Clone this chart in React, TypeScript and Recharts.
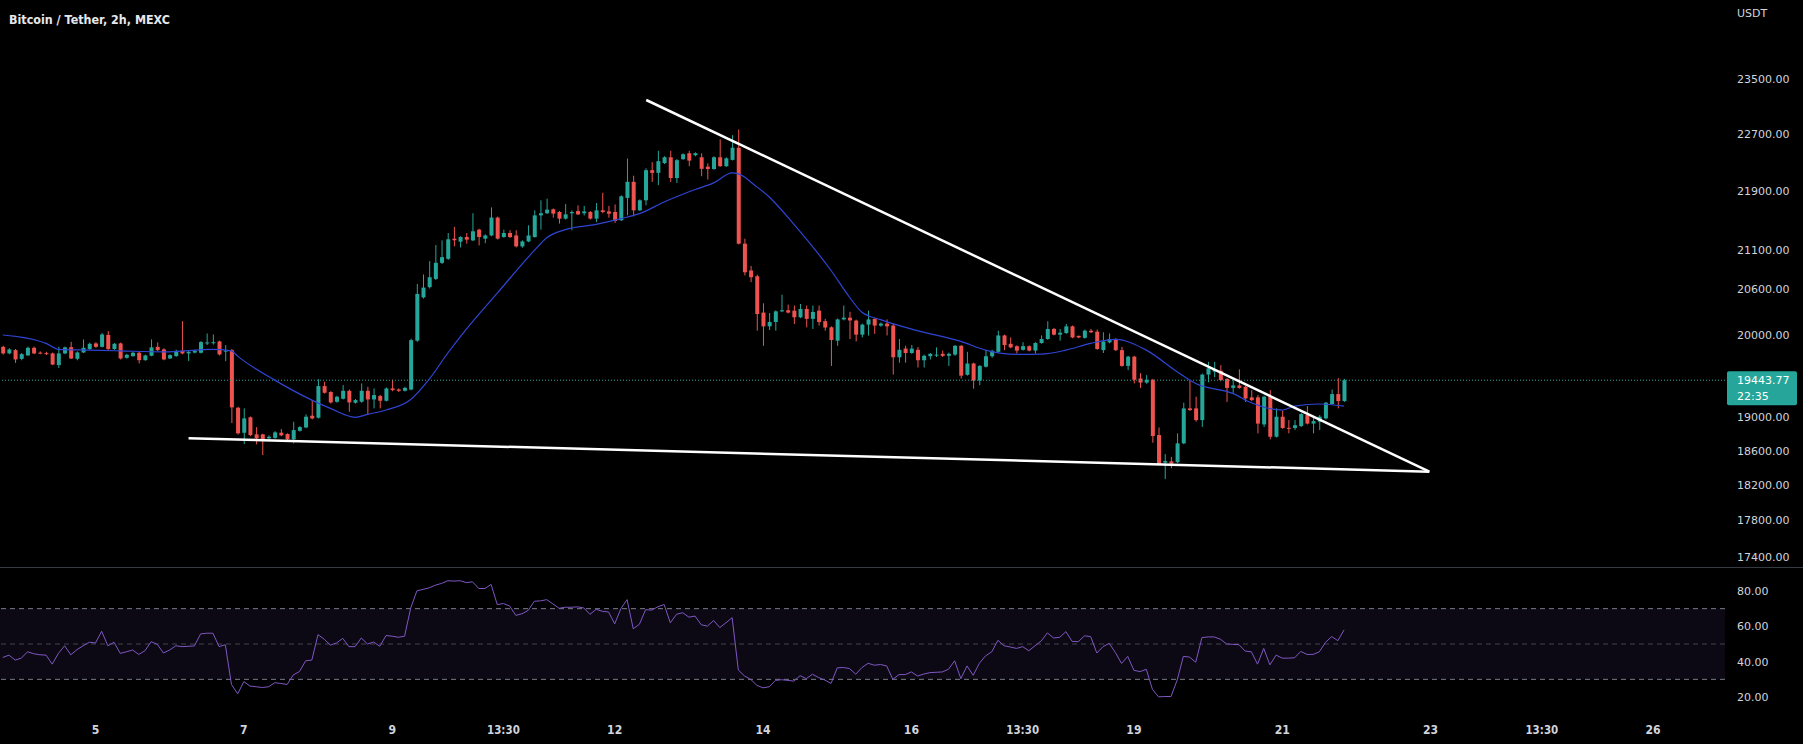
import { ComposedChart, Bar, Line, XAxis, YAxis, ReferenceLine, ReferenceArea } from 'recharts'

const UP = '#26a69a'
const DOWN = '#ef5350'
const MA_COLOR = '#2f45d4'
const RSI_COLOR = '#7e57c2'
const TEXT = '#d1d4dc'

// 2h bars, bar 0 = Sep 3 18:00. [open, high, low, close]
const ohlc: [number, number, number, number][] = [
  [19857, 19870, 19760, 19775], [19775, 19840, 19765, 19825], [19816, 19830, 19657, 19700], [19707, 19780, 19690, 19766],
  [19750, 19860, 19745, 19845], [19845, 19860, 19765, 19775], [19785, 19800, 19765, 19775], [19778, 19795, 19755, 19770],
  [19775, 19785, 19630, 19637], [19630, 19857, 19595, 19775], [19775, 19860, 19765, 19850], [19853, 19920, 19705, 19712],
  [19708, 19800, 19690, 19787], [19787, 19950, 19780, 19845], [19829, 19910, 19820, 19895], [19900, 19915, 19845, 19857],
  [19857, 20032, 19850, 20012], [20007, 20054, 19820, 19829], [19829, 19905, 19820, 19895], [19900, 19910, 19700, 19712],
  [19720, 19770, 19710, 19758], [19741, 19795, 19735, 19783], [19783, 19795, 19650, 19691], [19691, 19760, 19685, 19750],
  [19746, 19950, 19740, 19850], [19857, 19912, 19805, 19816], [19825, 19840, 19690, 19700], [19712, 19765, 19705, 19754],
  [19741, 19820, 19735, 19807], [19807, 20181, 19765, 19775], [19775, 19805, 19679, 19795], [19785, 19820, 19775, 19807],
  [19783, 19930, 19775, 19916], [19905, 20025, 19879, 19912], [19905, 20012, 19885, 19915], [19925, 19935, 19750, 19762],
  [19800, 19879, 19679, 19810], [19816, 19830, 18926, 19114], [19110, 19120, 18790, 18804], [18811, 19102, 18678, 18982],
  [18995, 19005, 18770, 18784], [18792, 18878, 18674, 18745], [18792, 18800, 18549, 18733], [18745, 18780, 18730, 18764],
  [18750, 18830, 18740, 18816], [18812, 18855, 18770, 18780], [18796, 18805, 18720, 18733], [18733, 18942, 18686, 18843],
  [18835, 18890, 18825, 18878], [18874, 19030, 18865, 19002], [19014, 19202, 18970, 18982], [18990, 19457, 18980, 19372],
  [19372, 19424, 19280, 19291], [19300, 19310, 19160, 19174], [19182, 19255, 19170, 19242], [19218, 19384, 19210, 19315],
  [19315, 19330, 19062, 19174], [19170, 19215, 19160, 19202], [19182, 19404, 19170, 19315], [19315, 19364, 19022, 19210],
  [19210, 19343, 19102, 19263], [19251, 19265, 19102, 19194], [19194, 19355, 19185, 19343], [19343, 19453, 19310, 19323],
  [19331, 19345, 19300, 19315], [19315, 19365, 19305, 19350], [19330, 19960, 19320, 19941], [19934, 20660, 19920, 20530],
  [20485, 20783, 20470, 20612], [20618, 20958, 20600, 20747], [20725, 21172, 20710, 20936], [20936, 21234, 20920, 21011],
  [20989, 21333, 20975, 21249], [21257, 21415, 21154, 21236], [21217, 21290, 21140, 21279], [21279, 21333, 21190, 21244],
  [21234, 21600, 21225, 21356], [21378, 21390, 21167, 21279], [21257, 21315, 21196, 21300], [21300, 21680, 21290, 21541],
  [21541, 21555, 21245, 21257], [21279, 21378, 21270, 21333], [21333, 21370, 21265, 21279], [21300, 21370, 21140, 21154],
  [21154, 21235, 21136, 21220], [21220, 21437, 21210, 21300], [21279, 21640, 21270, 21571], [21571, 21777, 21378, 21600],
  [21600, 21800, 21590, 21649], [21654, 21665, 21540, 21595], [21617, 21630, 21460, 21527], [21527, 21725, 21515, 21585],
  [21600, 21640, 21369, 21617], [21630, 21708, 21575, 21585], [21600, 21700, 21570, 21625], [21617, 21630, 21515, 21527],
  [21527, 21740, 21480, 21640], [21640, 21880, 21600, 21617], [21625, 21700, 21540, 21595], [21617, 21720, 21470, 21495],
  [21504, 21845, 21495, 21832], [21810, 22357, 21572, 22032], [22032, 22117, 21558, 21640], [21640, 21790, 21630, 21777],
  [21777, 22220, 21708, 22194], [22194, 22306, 22030, 22157], [22157, 22467, 21985, 22320], [22294, 22390, 22280, 22375],
  [22375, 22467, 22030, 22085], [22085, 22350, 22015, 22334], [22348, 22430, 22340, 22418], [22432, 22467, 22250, 22328],
  [22404, 22445, 22390, 22432], [22375, 22432, 22110, 22213], [22243, 22290, 22064, 22210], [22210, 22390, 22200, 22375],
  [22375, 22628, 22240, 22250], [22250, 22375, 22240, 22360], [22338, 22690, 22330, 22510], [22510, 22770, 21180, 21190],
  [21190, 21257, 20770, 20812], [20835, 20895, 20682, 20747], [20760, 20780, 20060, 20272], [20290, 20409, 19870, 20115],
  [20115, 20285, 20068, 20170], [20170, 20318, 20060, 20306], [20306, 20520, 20295, 20320], [20320, 20392, 20280, 20290],
  [20315, 20380, 20145, 20230], [20230, 20400, 20220, 20336], [20336, 20380, 20103, 20210], [20210, 20380, 20082, 20298],
  [20315, 20380, 20125, 20170], [20180, 20210, 20060, 20100], [20103, 20115, 19620, 19943], [19934, 20215, 19870, 20203],
  [20203, 20380, 20190, 20225], [20225, 20300, 19955, 20190], [20188, 20200, 19925, 20010], [20010, 20150, 19975, 20137],
  [20137, 20315, 19998, 20203], [20210, 20220, 20020, 20125], [20125, 20165, 20110, 20150], [20150, 20203, 20000, 20115],
  [20125, 20150, 19513, 19727], [19727, 19955, 19660, 19820], [19835, 19870, 19660, 19780], [19780, 19880, 19770, 19835],
  [19820, 19855, 19600, 19690], [19690, 19760, 19600, 19745], [19740, 19780, 19700, 19770], [19750, 19850, 19730, 19760],
  [19770, 19810, 19730, 19745], [19745, 19785, 19620, 19770], [19760, 19880, 19745, 19870], [19870, 19880, 19465, 19500],
  [19510, 19795, 19500, 19650], [19650, 19660, 19340, 19440], [19440, 19630, 19384, 19620], [19610, 19816, 19600, 19740],
  [19740, 19820, 19720, 19807], [19795, 20060, 19785, 20000], [20000, 20010, 19816, 19879], [19895, 19975, 19840, 19850],
  [19865, 19875, 19774, 19810], [19820, 19915, 19810, 19865], [19865, 19875, 19800, 19810], [19810, 19915, 19774, 19905],
  [19905, 20000, 19895, 19955], [19955, 20180, 19945, 20082], [20082, 20095, 20000, 20010], [20010, 20082, 19934, 20035],
  [20030, 20145, 20020, 20115], [20115, 20125, 19965, 19975], [19995, 19998, 19965, 19975], [19970, 20075, 19960, 20060],
  [20060, 20082, 20030, 20040], [20048, 20075, 19820, 19830], [19816, 20040, 19780, 19925], [19913, 20025, 19900, 19955],
  [19955, 19965, 19805, 19816], [19816, 19857, 19610, 19620], [19620, 19745, 19568, 19735], [19735, 19745, 19405, 19450],
  [19465, 19530, 19350, 19415], [19415, 19507, 19400, 19450], [19450, 19460, 18693, 18772], [18784, 18874, 18430, 18440],
  [18460, 18560, 18270, 18480], [18475, 18527, 18395, 18450], [18465, 18804, 18455, 18686], [18686, 19170, 18676, 19102],
  [19102, 19445, 19070, 19082], [19102, 19243, 18942, 18962], [18962, 19525, 18880, 19513], [19513, 19670, 19420, 19590],
  [19550, 19670, 19480, 19570], [19560, 19630, 19430, 19445], [19460, 19470, 19180, 19350], [19350, 19455, 19290, 19380],
  [19380, 19577, 19340, 19350], [19364, 19375, 19180, 19222], [19235, 19323, 19190, 19202], [19235, 19263, 18804, 18920],
  [18910, 19255, 18880, 19243], [19250, 19323, 18733, 18764], [18764, 19102, 18755, 19002], [19002, 19072, 18858, 18868],
  [18870, 18962, 18804, 18860], [18868, 18962, 18843, 18900], [18890, 19045, 18880, 19034], [19022, 19130, 18910, 18920],
  [18920, 19000, 18804, 18950], [18942, 19022, 18843, 19002], [18982, 19180, 18970, 19170], [19155, 19330, 19145, 19275],
  [19275, 19472, 19102, 19190], [19190, 19460, 19180, 19443.77],
]

// moving average read at some bars: [bar, value]
const maPoints: [number, number][] = [
  [0, 20006], [7, 19900], [9, 19825], [14, 19816], [19, 19807], [26, 19795], [34, 19825], [37, 19807],
  [38, 19741], [44, 19445], [50, 19202], [53, 19102], [57, 18995], [59, 19030], [62, 19082], [66, 19210],
  [69, 19457], [72, 19780], [75, 20080], [80, 20540], [86, 21100], [88, 21270], [91, 21378], [96, 21450],
  [100, 21527], [103, 21595], [107, 21754], [112, 21925], [115, 22017], [118, 22157], [120, 22100], [121, 22030],
  [124, 21822], [128, 21450], [134, 20835], [137, 20487], [139, 20294], [142, 20200], [148, 20060], [155, 19925],
  [159, 19816], [164, 19762], [168, 19766], [172, 19816], [176, 19900], [180, 19950], [185, 19816], [190, 19547],
  [193, 19404], [199, 19283], [202, 19170], [207, 19082], [209, 19130], [213, 19155], [217, 19130],
]

const rsi: number[] = [
  42.4, 43.7, 40.9, 42.0, 45.6, 44.5, 43.9, 43.7, 38.6, 44.7, 49.0, 43.9, 46.8, 49.0, 51.0, 50.6,
  57.2, 49.0, 51.0, 44.7, 45.6, 46.6, 44.1, 46.2, 51.3, 49.8, 44.9, 46.6, 49.0, 48.5, 48.7, 48.9,
  55.7, 56.1, 56.1, 48.5, 49.6, 27.1, 21.8, 28.7, 26.2, 25.8, 25.4, 25.8, 28.1, 27.7, 27.1, 32.5,
  34.4, 40.5, 40.9, 55.3, 52.7, 49.4, 50.6, 53.2, 48.5, 48.5, 53.4, 50.0, 51.1, 48.7, 54.8, 54.4,
  53.8, 54.4, 70.4, 80.1, 80.9, 81.8, 83.3, 84.3, 85.8, 85.6, 85.8, 84.7, 85.2, 81.4, 81.4, 83.7,
  72.3, 72.9, 71.5, 66.2, 67.1, 69.0, 74.2, 74.4, 75.1, 72.7, 70.2, 70.8, 70.8, 71.0, 70.4, 66.8,
  69.6, 68.5, 68.1, 61.4, 70.0, 75.1, 58.6, 61.2, 69.4, 69.2, 71.1, 72.3, 62.0, 66.8, 67.7, 65.2,
  65.8, 60.9, 60.1, 63.3, 59.3, 62.0, 64.9, 35.3, 31.9, 30.0, 26.6, 25.2, 25.8, 29.4, 29.8, 29.4,
  29.0, 32.1, 30.4, 32.9, 31.0, 29.6, 27.7, 36.5, 36.7, 36.1, 32.9, 36.7, 39.1, 38.0, 38.4, 37.6,
  30.0, 32.7, 32.7, 34.2, 31.9, 33.0, 33.8, 34.0, 34.2, 35.7, 40.5, 30.4, 37.6, 32.3, 39.1, 43.3,
  45.6, 52.1, 49.0, 48.3, 47.5, 48.5, 46.2, 49.0, 51.7, 56.3, 53.4, 53.8, 57.0, 51.5, 51.3, 54.6,
  54.2, 44.9, 48.5, 50.4, 45.2, 39.0, 43.0, 35.1, 34.4, 35.7, 24.3, 20.1, 20.3, 20.3, 29.6, 43.0,
  42.6, 39.7, 53.6, 54.0, 54.0, 52.7, 50.0, 49.8, 49.6, 46.0, 45.6, 38.6, 47.5, 38.2, 43.7, 42.0,
  42.0, 42.2, 45.8, 44.1, 44.1, 45.6, 51.0, 54.2, 51.9, 58.0,
]

// drawn trend lines, [bar, price]
const trendUpper: [number, number][] = [[104.1, 23197], [230.8, 18356]]
const trendLower: [number, number][] = [[30.06, 18746], [230.8, 18356]]

const priceTicks = [17400, 17800, 18200, 18600, 19000, 20000, 20600, 21100, 21900, 22700, 23500]
const rsiTicks = [20, 40, 60, 80]
const timeTicks = [15, 39, 63, 81, 99, 123, 147, 165, 183, 207, 231, 249, 267]
const timeLabels = ['5', '7', '9', '13:30', '12', '14', '16', '13:30', '19', '21', '23', '13:30', '26']

const title = 'Bitcoin / Tether, 2h, MEXC'
const currency = 'USDT'
const lastPrice = 19443.77
const countdown = '22:35'

const X_MIN = -0.45
const X_MAX = 278.63
const W = 1803
const PRICE_H = 567
const RSI_H = 177
const AXIS_W = 78
const BOLD_FONT = "'DejaVu Sans', sans-serif"

const candleRows = ohlc.map(([o, h, l, c], i) => ({ i, o, h, l, c, range: [l, h] }))
const maRows = maPoints.map(([i, ma]) => ({ i, ma }))
const rsiRows = rsi.map((v, i) => ({ i, rsi: v }))

const Candle = (props: any) => {
  const { x, y, width, height, payload } = props
  if (x == null || y == null) return null
  const { o, h, l, c } = payload
  const cx = x + width / 2
  const top = Math.min(y, y + height)
  const hh = Math.abs(height)
  const span = Math.log(h) - Math.log(l)
  const py = (p: number) => (span > 0 ? top + ((Math.log(h) - Math.log(p)) / span) * hh : top)
  const color = c >= o ? UP : DOWN
  const b1 = py(Math.max(o, c))
  const b2 = py(Math.min(o, c))
  return (
    <g>
      <line x1={cx} x2={cx} y1={top} y2={top + hh} stroke={color} strokeWidth={1} />
      <rect x={cx - 2} y={b1} width={4} height={Math.max(b2 - b1, 1)} fill={color} />
    </g>
  )
}

const AxisTick = ({ x, y, payload }: any) => (
  <text x={x + 4} y={y} dy={4} fill={TEXT} fontSize={11} fontFamily="DejaVu Sans, sans-serif" textAnchor="start">
    {Number(payload.value).toFixed(2)}
  </text>
)

// condensed look: squeeze the bold glyphs to the widths seen in the picture
const TimeTick = ({ x, y, payload }: any) => {
  const idx = timeTicks.indexOf(payload.value)
  const label = idx >= 0 ? timeLabels[idx] : ''
  const digits = label.replace(/[^0-9]/g, '').length
  const len = digits * 7.6 + (label.length - digits) * 2.4
  return (
    <text x={x} y={y} dy={12} fill={TEXT} fontSize={12.5} fontWeight="bold" fontFamily={BOLD_FONT}
      textAnchor="middle" textLength={len} lengthAdjust="spacingAndGlyphs">
      {label}
    </text>
  )
}

const PriceTag = ({ viewBox }: any) => {
  if (!viewBox) return null
  const x = viewBox.x + viewBox.width
  const y = viewBox.y
  return (
    <g>
      <rect x={x + 2} y={y - 9} width={70} height={34} fill={UP} rx={2} />
      <text x={x + 12} y={y + 4} fill="#fff" fontSize={11} fontFamily="DejaVu Sans, sans-serif">{lastPrice.toFixed(2)}</text>
      <text x={x + 12} y={y + 20} fill="#fff" fontSize={11} fontFamily="DejaVu Sans, sans-serif">{countdown}</text>
    </g>
  )
}

export default function App() {
  return (
    <div style={{ position: 'absolute', left: 0, top: 0, width: W, height: 744, background: '#000', overflow: 'hidden' }}>
      <ComposedChart width={W} height={PRICE_H} data={candleRows} margin={{ top: 0, right: 0, bottom: 0, left: 0 }}>
        <XAxis type="number" dataKey="i" domain={[X_MIN, X_MAX]} allowDataOverflow hide />
        <YAxis orientation="right" width={AXIS_W} scale="log" domain={[17286, 24705]} allowDataOverflow
          ticks={priceTicks} interval={0} axisLine={false} tickLine={false} tick={<AxisTick />} />
        <ReferenceLine y={lastPrice} stroke={UP} strokeDasharray="1 2" label={<PriceTag />} />
        <Bar dataKey="range" barSize={5} shape={<Candle />} isAnimationActive={false} />
        <Line data={maRows} dataKey="ma" type="monotone" dot={false} activeDot={false} stroke={MA_COLOR}
          strokeWidth={1.2} isAnimationActive={false} />
        <ReferenceLine segment={trendUpper.map(([x, y]) => ({ x, y }))} stroke="#fff" strokeWidth={2.5} />
        <ReferenceLine segment={trendLower.map(([x, y]) => ({ x, y }))} stroke="#fff" strokeWidth={2.5} />
      </ComposedChart>

      <div style={{ position: 'absolute', left: 0, top: PRICE_H, width: W, height: 1, background: '#363a45' }} />

      <div style={{ position: 'absolute', left: 0, top: PRICE_H + 1 }}>
        <ComposedChart width={W} height={RSI_H - 1} data={rsiRows} margin={{ top: 0, right: 0, bottom: 0, left: 0 }}>
          <XAxis type="number" dataKey="i" domain={[X_MIN, X_MAX]} allowDataOverflow ticks={timeTicks} interval={0}
            height={30} axisLine={false} tickLine={false} tick={<TimeTick />} />
          <YAxis orientation="right" width={AXIS_W} domain={[10.4, 93.0]} allowDataOverflow ticks={rsiTicks} interval={0}
            axisLine={false} tickLine={false} tick={<AxisTick />} />
          <ReferenceArea y1={30} y2={70} fill="#7e57c2" fillOpacity={0.1} stroke="none" />
          <ReferenceLine y={70} stroke="#787b86" strokeDasharray="5 4" />
          <ReferenceLine y={50} stroke="#787b86" strokeOpacity={0.5} strokeDasharray="5 4" />
          <ReferenceLine y={30} stroke="#787b86" strokeDasharray="5 4" />
          <Line dataKey="rsi" type="linear" dot={false} activeDot={false} stroke={RSI_COLOR} strokeWidth={1} isAnimationActive={false} />
        </ComposedChart>
      </div>

      <svg style={{ position: 'absolute', left: 0, top: 0 }} width={400} height={40}>
        <text x={9} y={23.5} fill="#e6e8ee" fontSize={13} fontWeight="bold" fontFamily={BOLD_FONT}
          textLength={161} lengthAdjust="spacingAndGlyphs">
          {title}
        </text>
      </svg>
      <div style={{ position: 'absolute', left: 1737, top: 7, color: TEXT, fontSize: 11, fontFamily: 'DejaVu Sans, sans-serif' }}>
        {currency}
      </div>
    </div>
  )
}
